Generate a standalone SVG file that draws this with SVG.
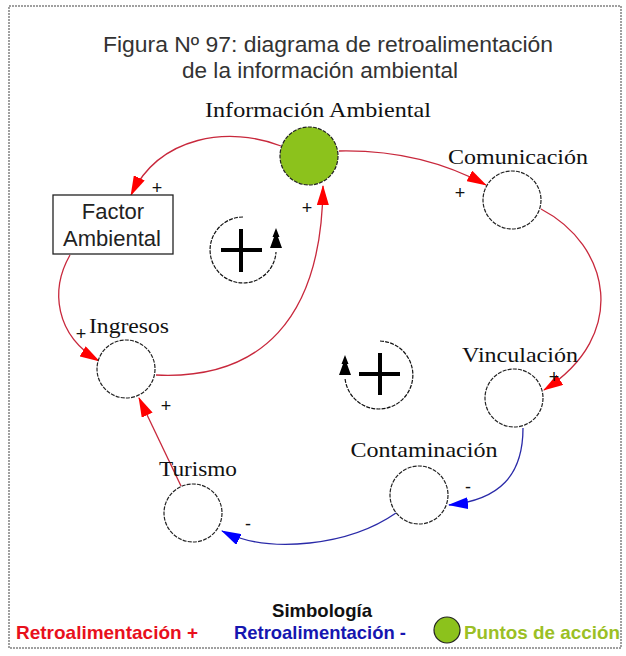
<svg xmlns="http://www.w3.org/2000/svg" width="626" height="656" viewBox="0 0 626 656">
<style>
.node{fill:#fff;stroke:#222;stroke-width:1.2;stroke-dasharray:4 1.2}
.lbl{font-family:"Liberation Serif","Times New Roman",serif;font-size:22px;fill:#111}
.sans{font-family:"Liberation Sans",Arial,sans-serif}
.sign{font-family:"Liberation Sans",Arial,sans-serif;font-size:18px;fill:#111;text-anchor:middle}
.pos{fill:none;stroke:#c8283c;stroke-width:1.3}
.neg{fill:none;stroke:#2a2aa8;stroke-width:1.3}
.loop{fill:none;stroke:#111;stroke-width:1.2;stroke-dasharray:4 1.2}
.bigplus{stroke:#000;stroke-width:4;fill:none}
.leg{font-family:"Liberation Sans",Arial,sans-serif;font-size:19px;font-weight:bold}
</style>
<defs>
<marker id="ar" markerUnits="userSpaceOnUse" markerWidth="20" markerHeight="12" refX="19" refY="6" orient="auto"><path d="M0 0 L20 6 L0 12 Z" fill="#ff0000"/></marker>
<marker id="ab" markerUnits="userSpaceOnUse" markerWidth="20" markerHeight="12" refX="19" refY="6" orient="auto"><path d="M0 0 L20 6 L0 12 Z" fill="#0000ff"/></marker>
</defs>
<rect x="9" y="6" width="612" height="642" fill="#fff" stroke="#a0a0a0" stroke-width="2" stroke-dasharray="2 1"/>
<g id="title" class="sans" fill="#333" font-size="22" text-anchor="middle">
<text x="328" y="52" textLength="450" lengthAdjust="spacingAndGlyphs">Figura Nº 97: diagrama de retroalimentación</text>
<text x="320" y="78" textLength="276" lengthAdjust="spacingAndGlyphs">de la información ambiental</text>
</g>
<g id="connectors">
<path class="pos" d="M281 146 C230 126 160 135 131 195" marker-end="url(#ar)"/>
<path class="pos" d="M156 375 C260 380 322 320 323 186" marker-end="url(#ar)"/>
<path class="pos" d="M339 151 C390 150 440 160 486 185" marker-end="url(#ar)"/>
<path class="pos" d="M541 209 C610 245 630 335 544 390" marker-end="url(#ar)"/>
<path class="pos" d="M70 255 C50 290 55 335 99 361" marker-end="url(#ar)"/>
<path class="pos" d="M181 486 L139 398" marker-end="url(#ar)"/>
<path class="neg" d="M523 428 C523 475 500 500 449 505" marker-end="url(#ab)"/>
<path class="neg" d="M396 513 C350 545 270 555 222 531" marker-end="url(#ab)"/>
</g>
<g id="signs">
<text class="sign" x="157" y="194">+</text>
<text class="sign" x="307" y="214">+</text>
<text class="sign" x="460" y="199">+</text>
<text class="sign" x="81" y="340">+</text>
<text class="sign" x="554" y="383">+</text>
<text class="sign" x="166" y="412">+</text>
<text class="sign" x="468" y="493">-</text>
<text class="sign" x="248" y="530">-</text>
</g>
<g id="informacion-ambiental">
<circle cx="309" cy="156" r="29" fill="#8cc21c" stroke="#222" stroke-width="1.2" stroke-dasharray="4 1.2"/>
<text class="lbl" x="318" y="117" text-anchor="middle" textLength="226" lengthAdjust="spacingAndGlyphs">Información Ambiental</text>
</g>
<g id="comunicacion">
<circle class="node" cx="512" cy="200" r="29"/>
<text class="lbl" x="518" y="164" text-anchor="middle" textLength="140" lengthAdjust="spacingAndGlyphs">Comunicación</text>
</g>
<g id="factor-ambiental">
<rect x="53" y="195" width="120" height="59" fill="#fff" stroke="#222" stroke-width="1.3"/>
<text class="sans" x="113" y="219" font-size="22" fill="#222" text-anchor="middle">Factor</text>
<text class="sans" x="112" y="246" font-size="22" fill="#222" text-anchor="middle">Ambiental</text>
</g>
<g id="ingresos">
<circle class="node" cx="126" cy="369" r="29"/>
<text class="lbl" x="129" y="333" text-anchor="middle" textLength="80" lengthAdjust="spacingAndGlyphs">Ingresos</text>
</g>
<g id="vinculacion">
<circle class="node" cx="514" cy="398" r="29"/>
<text class="lbl" x="520" y="362" text-anchor="middle" textLength="116" lengthAdjust="spacingAndGlyphs">Vinculación</text>
</g>
<g id="contaminacion">
<circle class="node" cx="419" cy="495" r="29"/>
<text class="lbl" x="424" y="457" text-anchor="middle" textLength="147" lengthAdjust="spacingAndGlyphs">Contaminación</text>
</g>
<g id="turismo">
<circle class="node" cx="193" cy="513" r="29"/>
<text class="lbl" x="198" y="476" text-anchor="middle" textLength="78" lengthAdjust="spacingAndGlyphs">Turismo</text>
</g>
<g id="loop-left">
<path class="loop" d="M243 217 A33 33 0 1 0 276 252"/>
<path d="M276 228 L272.5 237 L274 237 L270 248 L282 248 L278 237 L279.5 237 Z" fill="#000"/>
<path class="bigplus" d="M221 250 H262 M241 229 V272"/>
</g>
<g id="loop-right">
<path class="loop" d="M380 341 A34 34 0 1 1 345 378"/>
<path d="M345 355 L341.5 364 L343 364 L339 375 L351 375 L347 364 L348.5 364 Z" fill="#000"/>
<path class="bigplus" d="M359 374 H400 M380 353 V395"/>
</g>
<g id="legend">
<text class="leg" x="322" y="617" text-anchor="middle" fill="#111" textLength="100" lengthAdjust="spacingAndGlyphs">Simbología</text>
<text class="leg" x="16" y="639" fill="#e8101c" textLength="182" lengthAdjust="spacingAndGlyphs">Retroalimentación +</text>
<text class="leg" x="234" y="639" fill="#1616b0" textLength="172" lengthAdjust="spacingAndGlyphs">Retroalimentación -</text>
<circle cx="447" cy="630" r="13" fill="#8cc21c" stroke="#222" stroke-width="1.2"/>
<text class="leg" x="464" y="639" fill="#9bbf25" textLength="156" lengthAdjust="spacingAndGlyphs">Puntos de acción</text>
</g>
</svg>
